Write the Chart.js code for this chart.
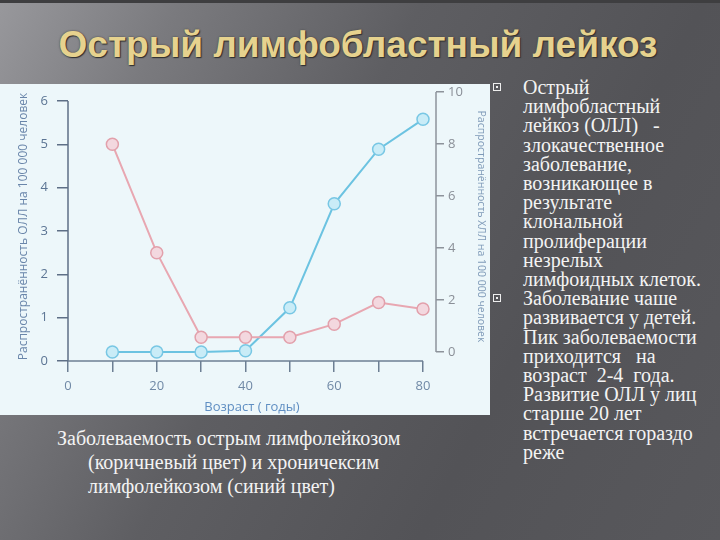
<!DOCTYPE html>
<html><head><meta charset="utf-8">
<script src="https://cdn.jsdelivr.net/npm/chart.js@4/dist/chart.umd.min.js"></script>
<style>
html,body{margin:0;padding:0;}
body{width:720px;height:540px;overflow:hidden;position:relative;
 background:linear-gradient(118deg,#98989c 0%,#7a7a7e 18%,#5e5e62 42%,#535357 70%,#58585c 100%);
 font-family:"Liberation Serif","Times New Roman",serif;}
#topline{position:absolute;left:0;top:0;width:720px;height:3px;background:#3e3e40;}
#title{position:absolute;left:0;width:716px;top:24px;line-height:42px;text-align:center;
 font-weight:bold;font-size:37px;font-family:"Liberation Sans",Arial,sans-serif;color:#e6d28e;
 text-shadow:1px 1px 1px #2e2e2e,0 0 2px #444;white-space:nowrap;}
#chartbox{position:absolute;left:0;top:84px;width:490px;height:331px;background:#edf7fa;}
#right{position:absolute;left:523px;top:78px;color:#f3f3f3;font-size:20px;line-height:19.2px;white-space:nowrap;}
.item{position:relative;}
.bul{position:absolute;left:-30px;top:5px;width:6px;height:6px;border:1px solid #eee;}
.bul::after{content:"";position:absolute;left:2px;top:2px;width:2px;height:2px;background:#eee;}
#caption{position:absolute;left:57px;top:426px;color:#f3f3f3;font-size:20px;line-height:24px;white-space:nowrap;}
#caption .ind{padding-left:31px;}
</style></head>
<body>
<div id="topline"></div>
<div id="title">Острый лимфобластный лейкоз</div>
<div id="chartbox"><canvas id="c" width="490" height="331"></canvas></div>
<div id="right">
 <div class="item"><span class="bul"></span>Острый<br>лимфобластный<br>лейкоз (ОЛЛ)&nbsp;&nbsp; -<br>злокачественное<br>заболевание,<br>возникающее в<br>результате<br>клональной<br>пролиферации<br>незрелых<br>лимфоидных клеток.</div>
 <div class="item"><span class="bul"></span>Заболевание чаше<br>развивается у детей.<br>Пик заболеваемости<br>приходится&nbsp;&nbsp; на<br>возраст&nbsp; 2-4&nbsp; года.<br>Развитие ОЛЛ у лиц<br>старше 20 лет<br>встречается гораздо<br>реже</div>
</div>
<div id="caption">Заболеваемость острым лимфолейкозом<br><span class="ind">(коричневый цвет) и хроничексим</span><br><span class="ind">лимфолейкозом (синий цвет)</span></div>
<script>
const ages = [10, 20, 30, 40, 50, 60, 70, 80];
const allRate = [5.0, 2.5, 0.55, 0.55, 0.55, 0.85, 1.35, 1.2];
const cllRate = [0, 0, 0, 0.05, 1.7, 5.7, 7.8, 8.95];
const xTickMarks = [0, 10, 20, 30, 40, 50, 60, 70, 80];
const xTickLabels = [0, 20, 40, 60, 80];
const leftTicks = [0, 1, 2, 3, 4, 5, 6];
const rightTicks = [0, 2, 4, 6, 8, 10];
const xTitle = 'Возраст ( годы)';
const leftTitle = 'Распространённость ОЛЛ на 100 000 человек';
const rightTitle = 'Распространённость ХЛЛ на 100 000 человек';

const FONT = '"Open Sans","Noto Sans",sans-serif';
const axisLines = {
  id: 'axisLines',
  beforeDatasetsDraw(chart) {
    const {ctx, chartArea: a, scales: {x, y, y2}} = chart;
    ctx.save();
    ctx.lineWidth = 1.5;
    ctx.strokeStyle = '#5e6f86';
    ctx.beginPath();
    ctx.moveTo(a.left, y.getPixelForValue(leftTicks[leftTicks.length - 1]));
    ctx.lineTo(a.left, y.getPixelForValue(0));
    ctx.stroke();
    ctx.strokeStyle = '#8d939b';
    ctx.beginPath();
    ctx.moveTo(a.right, y2.getPixelForValue(rightTicks[rightTicks.length - 1]));
    ctx.lineTo(a.right, y2.getPixelForValue(0));
    ctx.stroke();
    ctx.strokeStyle = '#6d7f93';
    ctx.beginPath();
    ctx.moveTo(x.getPixelForValue(0), a.bottom);
    ctx.lineTo(x.getPixelForValue(xTickMarks[xTickMarks.length - 1]), a.bottom);
    ctx.stroke();
    ctx.restore();
  }
};

new Chart(document.getElementById('c'), {
  type: 'line',
  data: {
    datasets: [
      {
        label: 'ОЛЛ',
        data: ages.map((a, i) => ({x: a, y: allRate[i]})),
        yAxisID: 'y',
        borderColor: '#e8a7b1',
        backgroundColor: '#f3d8df',
        pointBorderColor: '#e2a0ab',
        pointBackgroundColor: '#f3d8df',
        borderWidth: 2,
        pointRadius: 6,
        pointBorderWidth: 1.5,
        tension: 0
      },
      {
        label: 'ХЛЛ',
        data: ages.map((a, i) => ({x: a, y: cllRate[i]})),
        yAxisID: 'y2',
        borderColor: '#6cc3e1',
        backgroundColor: '#c9ecf7',
        pointBorderColor: '#78c7e4',
        pointBackgroundColor: '#c9ecf7',
        borderWidth: 2,
        pointRadius: 6,
        pointBorderWidth: 1.5,
        tension: 0
      }
    ]
  },
  options: {
    responsive: false,
    animation: false,
    devicePixelRatio: 1,
    layout: {padding: {top: 8, left: 0, right: 0, bottom: 0}},
    plugins: {legend: {display: false}, tooltip: {enabled: false}},
    scales: {
      x: {
        type: 'linear', min: 0, max: 82.93,
        afterBuildTicks: s => { s.ticks = xTickMarks.map(v => ({value: v})); },
        afterFit: s => { s.height = 54; s.paddingLeft = 0; s.paddingRight = 0; },
        border: {display: false},
        grid: {drawOnChartArea: false, drawTicks: true, tickLength: 11, color: '#6d7f93', lineWidth: 1.5},
        ticks: {autoSkip: false, maxRotation: 0, padding: 6, color: '#7089a6',
          font: {family: FONT, size: 13},
          callback: v => xTickLabels.includes(v) ? String(v) : ''},
        title: {display: true, text: xTitle, color: '#5f8ec2', font: {family: FONT, size: 13}, padding: {top: 0, bottom: 0}}
      },
      y: {
        type: 'linear', position: 'left', min: 0, max: 6.2077,
        afterBuildTicks: s => { s.ticks = leftTicks.map(v => ({value: v})); },
        afterFit: s => { s.width = 68; s.paddingTop = 0; s.paddingBottom = 0; },
        border: {display: false},
        grid: {drawOnChartArea: false, drawTicks: true, tickLength: 11, color: '#5e6f86', lineWidth: 1.5},
        ticks: {padding: 9, color: '#5c7594', font: {family: FONT, size: 13}},
        title: {display: true, text: leftTitle, color: '#6a86aa', font: {family: FONT, size: 12}, padding: {top: 16, bottom: 0}}
      },
      y2: {
        type: 'linear', position: 'right', min: -0.346, max: 10,
        afterBuildTicks: s => { s.ticks = rightTicks.map(v => ({value: v})); },
        afterFit: s => { s.width = 54; s.paddingTop = 0; s.paddingBottom = 0; },
        border: {display: false},
        grid: {drawOnChartArea: false, drawTicks: true, tickLength: 8, color: '#8d939b', lineWidth: 1.5},
        ticks: {padding: 4, color: '#8a8f97', font: {family: FONT, size: 13}},
        title: {display: true, text: rightTitle, color: '#7f9ab8', font: {family: FONT, size: 10.5}, padding: {top: 3, bottom: 0}}
      }
    }
  },
  plugins: [axisLines]
});
</script>
</body></html>
